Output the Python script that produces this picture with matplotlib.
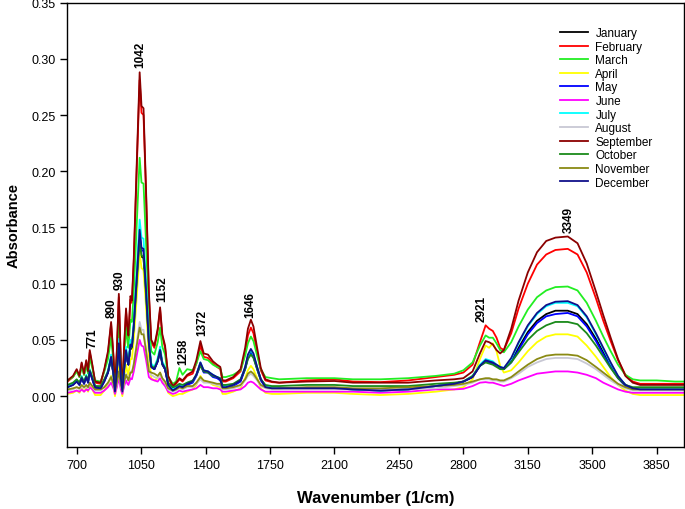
import matplotlib
matplotlib.use('Agg')
import matplotlib.pyplot as plt

plt.rcParams['font.family'] = ['Liberation Sans', 'DejaVu Sans']

# Wavenumber grid (1/cm)
wavenumber = [650, 680, 700, 715, 727, 740, 752, 762, 771, 785, 800, 830, 850, 870, 887,
              900, 908, 918, 929, 940, 948, 958, 968, 976, 981, 992, 1000, 1010, 1027,
              1042, 1052, 1063, 1077, 1092, 1105, 1122, 1140, 1153, 1165, 1180, 1197,
              1222, 1240,
              1258, 1275, 1300, 1330, 1350, 1372, 1390, 1413, 1440, 1462, 1480, 1492,
              1510, 1550, 1590, 1615, 1630, 1646, 1660, 1680, 1700, 1725, 1760,
              1800, 1950, 2100, 2200, 2350, 2500, 2650, 2750, 2800, 2850, 2890,
              2921, 2940, 2960, 2980, 3000, 3020, 3060, 3100, 3150, 3200, 3250, 3300,
              3367, 3420, 3470, 3520, 3560, 3600, 3640, 3680, 3720, 3760, 3850, 3950, 4000]

january = [0.009, 0.011, 0.014, 0.011, 0.016, 0.012, 0.017, 0.013, 0.022, 0.016, 0.008, 0.008, 0.014, 0.021, 0.033,
           0.019, 0.006, 0.021, 0.045, 0.016, 0.006, 0.024, 0.039, 0.031, 0.028, 0.044, 0.042, 0.060, 0.102,
           0.138, 0.124, 0.123, 0.088, 0.046, 0.026, 0.024, 0.031, 0.040, 0.028, 0.024, 0.011,
           0.007, 0.008,
           0.010, 0.009, 0.011, 0.013, 0.019, 0.029, 0.022, 0.022, 0.018, 0.017, 0.015, 0.009,
           0.009, 0.010, 0.014, 0.025, 0.035, 0.039, 0.036, 0.025, 0.015, 0.009, 0.008,
           0.007, 0.007, 0.007, 0.006, 0.005, 0.006, 0.009, 0.011, 0.013, 0.017, 0.027,
           0.031, 0.030, 0.029, 0.027, 0.025, 0.024, 0.031, 0.043, 0.057, 0.067, 0.073, 0.076,
           0.076, 0.073, 0.064, 0.051, 0.039, 0.027, 0.017, 0.010, 0.007, 0.007, 0.007, 0.007, 0.007]

february = [0.013, 0.017, 0.023, 0.017, 0.029, 0.019, 0.031, 0.021, 0.039, 0.027, 0.012, 0.011, 0.023, 0.038, 0.064,
            0.034, 0.006, 0.038, 0.088, 0.029, 0.006, 0.043, 0.076, 0.058, 0.052, 0.086, 0.083, 0.119, 0.206,
            0.281, 0.252, 0.250, 0.178, 0.090, 0.048, 0.043, 0.058, 0.077, 0.053, 0.043, 0.017,
            0.008, 0.011,
            0.015, 0.013, 0.018, 0.020, 0.029, 0.045, 0.035, 0.034, 0.029, 0.026, 0.024, 0.013,
            0.013, 0.016, 0.022, 0.039, 0.054, 0.061, 0.056, 0.039, 0.023, 0.014, 0.0125,
            0.012, 0.014, 0.015, 0.013, 0.0125, 0.014, 0.017, 0.019, 0.021, 0.028, 0.048,
            0.063, 0.060, 0.058, 0.052, 0.043, 0.041, 0.056, 0.078, 0.100, 0.117, 0.126, 0.130,
            0.131, 0.126, 0.110, 0.087, 0.067, 0.049, 0.032, 0.019, 0.013, 0.011, 0.011, 0.011, 0.011]

march = [0.014, 0.017, 0.022, 0.017, 0.026, 0.019, 0.027, 0.020, 0.034, 0.025, 0.014, 0.013, 0.022, 0.033, 0.052,
         0.030, 0.009, 0.033, 0.070, 0.026, 0.009, 0.037, 0.061, 0.048, 0.043, 0.068, 0.066, 0.092, 0.156,
         0.212, 0.190, 0.189, 0.135, 0.071, 0.040, 0.037, 0.048, 0.061, 0.044, 0.037, 0.017,
         0.011, 0.013,
         0.025, 0.019, 0.024, 0.023, 0.029, 0.040, 0.033, 0.032, 0.028, 0.026, 0.025, 0.017,
         0.017, 0.019, 0.023, 0.036, 0.047, 0.053, 0.049, 0.036, 0.024, 0.017, 0.016,
         0.015, 0.016, 0.016, 0.015, 0.015, 0.016, 0.018, 0.020, 0.023, 0.030, 0.045,
         0.054, 0.052, 0.052, 0.047, 0.041, 0.039, 0.048, 0.062, 0.077, 0.088, 0.094, 0.097,
         0.0975, 0.094, 0.083, 0.067, 0.053, 0.040, 0.028, 0.019, 0.015, 0.014, 0.014, 0.013, 0.013]

april = [0.002, 0.003, 0.005, 0.003, 0.007, 0.004, 0.007, 0.004, 0.010, 0.006, 0.001, 0.001, 0.005, 0.010, 0.018,
         0.008, 0.000, 0.010, 0.026, 0.008, 0.000, 0.014, 0.028, 0.021, 0.019, 0.033, 0.033, 0.050, 0.090,
         0.128, 0.114, 0.112, 0.078, 0.036, 0.016, 0.014, 0.016, 0.021, 0.014, 0.011, 0.003,
         0.000, 0.001,
         0.002, 0.002, 0.004, 0.006, 0.010, 0.018, 0.013, 0.013, 0.010, 0.009, 0.008, 0.002,
         0.002, 0.004, 0.007, 0.016, 0.023, 0.027, 0.024, 0.016, 0.007, 0.003, 0.002,
         0.002, 0.003, 0.003, 0.002, 0.001, 0.002, 0.004, 0.006, 0.008, 0.015, 0.033,
         0.045, 0.043, 0.047, 0.040, 0.027, 0.021, 0.023, 0.030, 0.040, 0.048, 0.053, 0.055,
         0.055, 0.053, 0.045, 0.035, 0.026, 0.017, 0.010, 0.005, 0.002, 0.001, 0.001, 0.001, 0.001]

may = [0.008, 0.010, 0.013, 0.010, 0.016, 0.011, 0.017, 0.012, 0.022, 0.015, 0.007, 0.007, 0.013, 0.021, 0.034,
       0.019, 0.005, 0.021, 0.047, 0.016, 0.005, 0.024, 0.040, 0.031, 0.028, 0.046, 0.044, 0.062, 0.107,
       0.145, 0.130, 0.129, 0.092, 0.048, 0.026, 0.024, 0.031, 0.041, 0.029, 0.024, 0.010,
       0.006, 0.007,
       0.009, 0.008, 0.010, 0.012, 0.018, 0.028, 0.021, 0.021, 0.017, 0.016, 0.014, 0.008,
       0.008, 0.009, 0.013, 0.024, 0.034, 0.038, 0.035, 0.024, 0.014, 0.008, 0.007,
       0.007, 0.007, 0.007, 0.006, 0.005, 0.006, 0.009, 0.011, 0.013, 0.017, 0.027,
       0.031, 0.030, 0.029, 0.027, 0.025, 0.024, 0.030, 0.041, 0.055, 0.065, 0.071, 0.073,
       0.074, 0.071, 0.062, 0.049, 0.037, 0.026, 0.016, 0.009, 0.006, 0.006, 0.006, 0.006, 0.006]

june = [0.003, 0.004, 0.005, 0.004, 0.006, 0.004, 0.006, 0.005, 0.008, 0.006, 0.003, 0.003, 0.005, 0.008, 0.012,
        0.007, 0.002, 0.008, 0.016, 0.006, 0.002, 0.009, 0.014, 0.011, 0.010, 0.016, 0.015, 0.022, 0.037,
        0.050, 0.045, 0.044, 0.032, 0.017, 0.015, 0.014, 0.013, 0.016, 0.012, 0.009, 0.004,
        0.002, 0.003,
        0.005, 0.004, 0.005, 0.006, 0.007, 0.010, 0.008, 0.008, 0.007, 0.007, 0.006, 0.004,
        0.004, 0.005, 0.006, 0.009, 0.012, 0.013, 0.012, 0.009, 0.006, 0.004, 0.004,
        0.004, 0.004, 0.004, 0.004, 0.003, 0.004, 0.006, 0.006, 0.0065, 0.009, 0.012,
        0.0125, 0.012, 0.012, 0.011, 0.010, 0.009, 0.011, 0.014, 0.017, 0.020, 0.021, 0.022,
        0.022, 0.021, 0.019, 0.016, 0.012, 0.009, 0.006, 0.004, 0.003, 0.003, 0.003, 0.003, 0.003]

july = [0.009, 0.011, 0.014, 0.011, 0.018, 0.012, 0.019, 0.013, 0.024, 0.017, 0.009, 0.008, 0.014, 0.023, 0.037,
        0.020, 0.005, 0.023, 0.051, 0.018, 0.005, 0.026, 0.044, 0.034, 0.031, 0.050, 0.047, 0.067, 0.115,
        0.157, 0.141, 0.140, 0.100, 0.052, 0.029, 0.026, 0.034, 0.044, 0.031, 0.026, 0.011,
        0.006, 0.008,
        0.010, 0.009, 0.012, 0.013, 0.019, 0.030, 0.023, 0.022, 0.019, 0.017, 0.016, 0.009,
        0.009, 0.010, 0.015, 0.026, 0.036, 0.041, 0.037, 0.026, 0.015, 0.009, 0.008,
        0.007, 0.007, 0.007, 0.006, 0.005, 0.006, 0.009, 0.011, 0.013, 0.018, 0.028,
        0.033, 0.032, 0.031, 0.028, 0.026, 0.025, 0.033, 0.047, 0.062, 0.073, 0.080, 0.083,
        0.083, 0.080, 0.070, 0.055, 0.042, 0.029, 0.018, 0.010, 0.007, 0.007, 0.007, 0.007, 0.007]

august = [0.005, 0.006, 0.008, 0.006, 0.009, 0.007, 0.009, 0.007, 0.011, 0.009, 0.005, 0.005, 0.008, 0.011, 0.017,
          0.010, 0.004, 0.011, 0.022, 0.009, 0.004, 0.012, 0.020, 0.016, 0.014, 0.022, 0.021, 0.029, 0.049,
          0.066, 0.059, 0.059, 0.042, 0.023, 0.019, 0.017, 0.016, 0.020, 0.015, 0.012, 0.006,
          0.004, 0.005,
          0.007, 0.006, 0.008, 0.008, 0.011, 0.015, 0.012, 0.012, 0.011, 0.010, 0.009, 0.006,
          0.006, 0.007, 0.009, 0.014, 0.018, 0.020, 0.018, 0.014, 0.009, 0.007, 0.006,
          0.006, 0.006, 0.006, 0.006, 0.006, 0.006, 0.007, 0.009, 0.010, 0.012, 0.015,
          0.015, 0.015, 0.014, 0.014, 0.013, 0.013, 0.016, 0.020, 0.026, 0.030, 0.033, 0.034,
          0.034, 0.033, 0.029, 0.024, 0.019, 0.014, 0.010, 0.007, 0.005, 0.005, 0.005, 0.005, 0.005]

september = [0.014, 0.018, 0.024, 0.018, 0.030, 0.020, 0.032, 0.022, 0.041, 0.028, 0.013, 0.012, 0.024, 0.040, 0.066,
             0.035, 0.007, 0.040, 0.091, 0.030, 0.007, 0.045, 0.078, 0.060, 0.054, 0.089, 0.085, 0.122, 0.211,
             0.288, 0.258, 0.256, 0.182, 0.093, 0.050, 0.045, 0.060, 0.079, 0.055, 0.045, 0.018,
             0.009, 0.012,
             0.016, 0.014, 0.019, 0.022, 0.032, 0.049, 0.038, 0.037, 0.031, 0.028, 0.026, 0.014,
             0.014, 0.017, 0.024, 0.043, 0.060, 0.068, 0.062, 0.043, 0.025, 0.015, 0.013,
             0.012, 0.013, 0.0135, 0.012, 0.012, 0.012, 0.014, 0.015, 0.016, 0.022, 0.038,
             0.049, 0.048, 0.046, 0.041, 0.038, 0.041, 0.060, 0.085, 0.110, 0.128, 0.138, 0.141,
             0.142, 0.136, 0.118, 0.093, 0.072, 0.052, 0.033, 0.018, 0.012, 0.010, 0.010, 0.010, 0.010]

october = [0.010, 0.012, 0.015, 0.012, 0.017, 0.013, 0.018, 0.014, 0.023, 0.017, 0.009, 0.009, 0.015, 0.022, 0.034,
           0.020, 0.007, 0.022, 0.046, 0.017, 0.007, 0.025, 0.040, 0.032, 0.029, 0.045, 0.043, 0.061, 0.103,
           0.139, 0.125, 0.124, 0.089, 0.047, 0.027, 0.025, 0.032, 0.041, 0.029, 0.025, 0.012,
           0.008, 0.009,
           0.011, 0.010, 0.012, 0.014, 0.019, 0.027, 0.022, 0.021, 0.018, 0.017, 0.016, 0.010,
           0.010, 0.011, 0.015, 0.024, 0.033, 0.037, 0.034, 0.024, 0.015, 0.010, 0.009,
           0.009, 0.010, 0.010, 0.009, 0.009, 0.009, 0.011, 0.012, 0.013, 0.018, 0.027,
           0.030, 0.029, 0.028, 0.026, 0.024, 0.024, 0.030, 0.039, 0.050, 0.058, 0.063, 0.066,
           0.066, 0.064, 0.056, 0.045, 0.035, 0.025, 0.016, 0.010, 0.008, 0.008, 0.008, 0.008, 0.008]

november = [0.006, 0.007, 0.008, 0.007, 0.010, 0.008, 0.010, 0.008, 0.012, 0.009, 0.006, 0.006, 0.008, 0.012, 0.017,
            0.011, 0.005, 0.012, 0.022, 0.010, 0.005, 0.013, 0.019, 0.016, 0.014, 0.021, 0.021, 0.028, 0.046,
            0.061, 0.055, 0.055, 0.040, 0.022, 0.021, 0.020, 0.018, 0.021, 0.016, 0.013, 0.007,
            0.005, 0.006,
            0.008, 0.007, 0.009, 0.009, 0.012, 0.017, 0.014, 0.013, 0.012, 0.011, 0.011, 0.007,
            0.007, 0.008, 0.010, 0.015, 0.020, 0.022, 0.020, 0.015, 0.010, 0.008, 0.007,
            0.007, 0.008, 0.008, 0.007, 0.007, 0.008, 0.009, 0.010, 0.011, 0.013, 0.015,
            0.016, 0.016, 0.015, 0.015, 0.014, 0.014, 0.017, 0.022, 0.028, 0.033, 0.036, 0.037,
            0.037, 0.036, 0.032, 0.026, 0.021, 0.016, 0.011, 0.008, 0.006, 0.006, 0.006, 0.006, 0.006]

december = [0.008, 0.010, 0.013, 0.010, 0.016, 0.011, 0.017, 0.012, 0.022, 0.015, 0.008, 0.007, 0.013, 0.021, 0.035,
            0.019, 0.004, 0.021, 0.047, 0.016, 0.004, 0.024, 0.041, 0.031, 0.028, 0.046, 0.044, 0.063, 0.108,
            0.148, 0.132, 0.131, 0.094, 0.048, 0.026, 0.024, 0.031, 0.041, 0.029, 0.024, 0.010,
            0.005, 0.007,
            0.009, 0.008, 0.011, 0.013, 0.019, 0.030, 0.023, 0.022, 0.019, 0.017, 0.015, 0.008,
            0.008, 0.010, 0.014, 0.026, 0.037, 0.042, 0.038, 0.026, 0.015, 0.008, 0.007,
            0.007, 0.007, 0.007, 0.006, 0.005, 0.006, 0.009, 0.011, 0.013, 0.017, 0.027,
            0.032, 0.031, 0.030, 0.028, 0.026, 0.025, 0.034, 0.048, 0.063, 0.074, 0.081, 0.084,
            0.0845, 0.081, 0.071, 0.056, 0.043, 0.030, 0.018, 0.010, 0.007, 0.006, 0.006, 0.006, 0.006]

months = ['January', 'February', 'March', 'April', 'May', 'June', 'July',
          'August', 'September', 'October', 'November', 'December']
spectra = [january, february, march, april, may, june, july,
           august, september, october, november, december]
colors = ['#000000', '#ff0000', '#22ee22', '#ffff00', '#0000ff', '#ff00ff', '#00ffff',
          '#c8c8d4', '#8b0000', '#1a8a1a', '#8a8a14', '#10108a']

# peak labels and where they sit (wavenumber, absorbance at text bottom)
peak_labels = ['771', '890', '930', '1042', '1152', '1258', '1372', '1646', '2921', '3349']
label_x = [785, 890, 932, 1045, 1163, 1277, 1381, 1643, 2899, 3371]
label_y = [0.044, 0.070, 0.095, 0.293, 0.085, 0.029, 0.054, 0.070, 0.067, 0.146]

fig = plt.figure(figsize=(6.85, 5.10), dpi=100)
ax = fig.add_axes([0.0985, 0.122, 0.9005, 0.871])

for name, values, c in zip(months, spectra, colors):
    ax.plot(wavenumber, values, color=c, lw=1.3, label=name)

for txt, x, y in zip(peak_labels, label_x, label_y):
    ax.text(x, y, txt, rotation=90, ha='center', va='bottom',
            fontsize=8.5, fontweight='bold')

ax.set_xlim(650, 4000)
ax.set_ylim(-0.045, 0.35)
ax.set_xticks(range(700, 4000, 350))
ax.set_yticks([0.0, 0.05, 0.10, 0.15, 0.20, 0.25, 0.30, 0.35])
ax.yaxis.set_major_formatter(matplotlib.ticker.FormatStrFormatter('%.2f'))
ax.tick_params(direction='out', length=5, width=1, labelsize=9)

for sp in ax.spines.values():
    sp.set_linewidth(1)

ax.set_xlabel('Wavenumber (1/cm)', fontsize=12, fontweight='bold', labelpad=14)
ax.set_ylabel('Absorbance', fontsize=10.5, fontweight='bold', labelpad=8)

ax.legend(loc='upper left', bbox_to_anchor=(0.8175, 0.945), bbox_transform=fig.transFigure,
          frameon=False, fontsize=8.5, handlelength=2.4, handletextpad=0.6,
          labelspacing=0.135, borderpad=0, borderaxespad=0)

fig.savefig('out.png', dpi=100)
